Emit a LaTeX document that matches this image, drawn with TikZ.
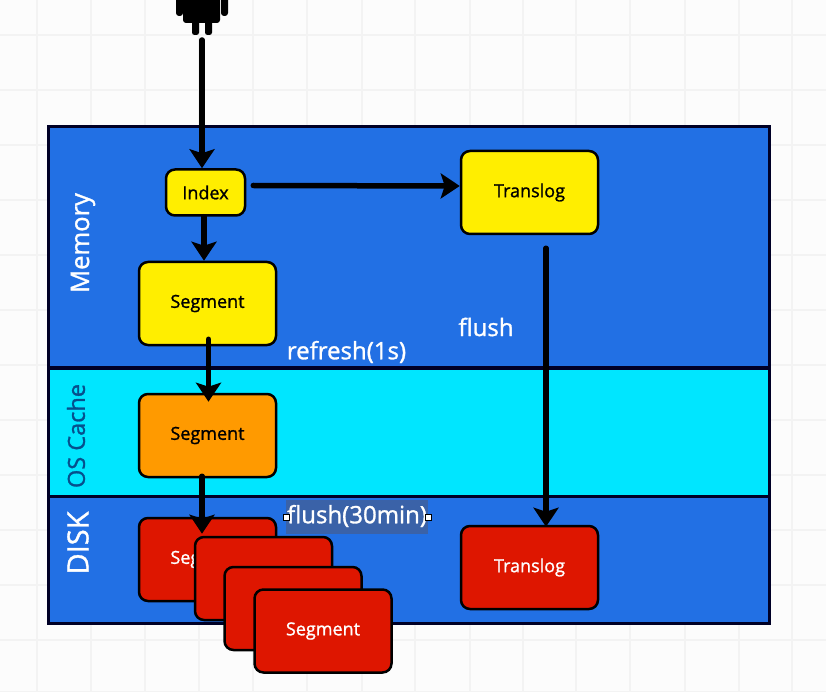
\documentclass[tikz,border=0pt]{standalone}
\usepackage{fontspec}
\setmainfont{Open Sans}
\newfontfamily\midfont[FakeBold=1.2]{Open Sans}
\usetikzlibrary{arrows.meta}
\definecolor{paper}{HTML}{FCFCFC}
\definecolor{gridline}{HTML}{F3F3F3}
\definecolor{areablue}{HTML}{2270E4}
\definecolor{areacyan}{HTML}{00E6FF}
\definecolor{areatext}{HTML}{064F8C}
\definecolor{selblue}{HTML}{3A62A8}
\definecolor{boxyellow}{HTML}{FFEE00}
\definecolor{boxorange}{HTML}{FF9A00}
\definecolor{boxred}{HTML}{DE1600}
\tikzset{
  area/.style={draw=black!85!blue,line width=3pt,anchor=north west,inner sep=0pt,outer sep=0pt},
  box/.style={draw=black,line width=2.5pt,rounded corners=9pt,minimum width=137pt,minimum height=83pt,inner sep=0pt,font=\midfont\fontsize{18}{21}\selectfont},
  whitetext/.style={text=white,font=\midfont\fontsize{24}{28}\selectfont,inner sep=0pt},
  flow/.style={draw=black,line width=5.5pt,line cap=round,-{Stealth[length=19pt,width=25pt,inset=4pt]}},
  handle/.style={draw=black,fill=white,line width=0.4pt,minimum size=6pt,inner sep=0pt}
}
\begin{document}
\begin{tikzpicture}[x=1pt,y=-1pt]
\useasboundingbox (0,0) rectangle (826,692);
\fill[paper] (0,0) rectangle (826,692);
% faint squares behind the drawing
\foreach \gx in {37,91,145,199,253,307,362,415,470,523,576,630,685,739,792}
  \draw[gridline,line width=1.5pt] (\gx,0) -- (\gx,692);
\foreach \gy in {35,90,145,200,255,310,365,420,475,530,585,640,692}
  \draw[gridline,line width=1.5pt] (0,\gy) -- (826,\gy);
% the three areas
\node[area,fill=areablue,minimum width=721pt,minimum height=240pt] (memory) at (48,127) {};
\node[area,fill=areacyan,minimum width=721pt,minimum height=128pt] (oscache) at (48,368) {};
\node[area,fill=areablue,minimum width=721pt,minimum height=127pt] (disk) at (48,496) {};
\node[whitetext,rotate=90,font=\midfont\fontsize{25.5}{30}\selectfont] (memorytext) at (83,243) {Memory};
\node[whitetext,rotate=90,text=areatext,font=\midfont\fontsize{23.5}{28}\selectfont] (oscachetext) at (76,436) {OS Cache};
\node[whitetext,rotate=90,font=\midfont\fontsize{29}{34}\selectfont] (disktext) at (78,543) {DISK};
% the robot
\fill[black,rounded corners=3pt] (183,-8) rectangle (220,23);
\fill[black,rounded corners=3pt] (176,-8) rectangle (183,16);
\fill[black,rounded corners=3pt] (221,-8) rectangle (228,16);
\fill[black,rounded corners=2.5pt] (192,15) rectangle (199,35);
\fill[black,rounded corners=2.5pt] (205,15) rectangle (212,35);
\coordinate (robot) at (202,40);
% boxes
\node[box,fill=boxyellow,minimum width=79pt,minimum height=46pt] (index) at (205.5,192.5) {Index};
\node[box,fill=boxyellow] (segmem) at (207.5,303.5) {Segment};
\node[box,fill=boxyellow] (tlogmem) at (529.5,192.5) {Translog};
\node[box,fill=boxorange] (segos) at (207.5,435.5) {Segment};
\node[box,fill=boxred,text=white] (segone) at (207.5,559.5) {Segment};
\node[box,fill=boxred,text=white] (tlogdisk) at (529.5,567.5) {Translog};
% connectors
\draw[flow] (robot) -- (robot |- index.north);
\draw[flow] (index.south -| 204,0) -- (segmem.north -| 204,0);
\draw[flow] ([xshift=7pt,yshift=7pt]index.east) -- ([yshift=6.5pt]tlogmem.west);
\draw[flow] ([xshift=1pt,yshift=7pt]segmem.south) -- ([xshift=1pt,yshift=-9pt]segos.north);
\draw[flow] ([xshift=16.5pt,yshift=-13pt]tlogmem.south) -- ([xshift=16.5pt,yshift=-2pt]tlogdisk.north);
\draw[flow] ([xshift=-5.5pt,yshift=2pt]segos.south) -- ([xshift=-5.5pt,yshift=-17pt]segone.north);
% the stack over the first disk segment
\node[box,fill=boxred] (segtwo) at (263.5,578.5) {};
\node[box,fill=boxred] (segthree) at (293,608.5) {};
\node[box,fill=boxred,text=white] (segfour) at (323,631) {Segment};
% labels
\node[whitetext] (refresh) at (346.5,352) {refresh(1s)};
\node[whitetext] (flush) at (486,327) {flush};
\node[fill=selblue,minimum width=142pt,minimum height=34pt,inner sep=0pt] (selbox) at (357,517) {};
\node[whitetext] (flushlong) at (357,516) {flush(30min)};
\node[handle] (handleleft) at (selbox.west) {};
\node[handle] (handleright) at (selbox.east) {};
\end{tikzpicture}
\end{document}
